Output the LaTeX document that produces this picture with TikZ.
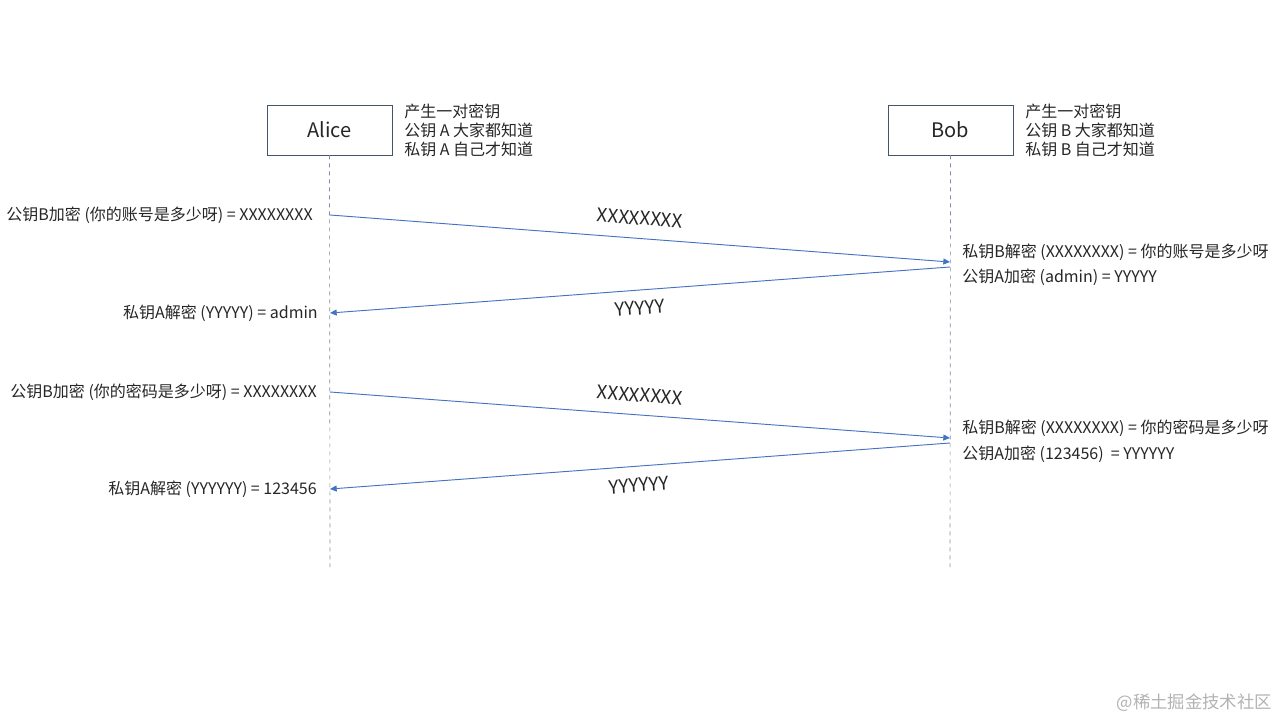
\documentclass[tikz,border=0pt]{standalone}
\usepackage{fontspec}
\setmainfont{Noto Sans CJK SC}
\usetikzlibrary{arrows.meta}
\definecolor{boxline}{HTML}{44546A}
\definecolor{arrowc}{HTML}{4472C4}
\definecolor{life}{HTML}{7F8FA6}
\definecolor{txt}{HTML}{262626}
\tikzset{
  actor/.style={draw=boxline, line width=0.6pt, minimum width=93.75pt, minimum height=37.5pt, font=\fontsize{15}{18}\selectfont, text=txt, inner sep=0pt},
  lifeline/.style={draw=life, dashed, line width=0.5pt},
  msg/.style={draw=arrowc, line width=0.7pt, -{Triangle[length=5pt,width=4.5pt]}},
  note/.style={font=\fontsize{12}{14.25}\selectfont, text=txt, align=left, inner sep=0pt},
  lbl/.style={font=\fontsize{12}{14}\selectfont, text=txt, inner sep=0pt},
  big/.style={font=\fontsize{14}{16}\selectfont, text=txt, inner sep=0pt},
}
\begin{document}
\begin{tikzpicture}[x=0.75pt,y=-0.75pt]
\useasboundingbox (0,0) rectangle (1280,720);
% actors
\node[actor] (alice) at (329.5,130) {Alice};
\node[actor] (bob) at (950.5,130) {Bob};
\coordinate (aliceEnd) at (330,567);
\coordinate (bobEnd) at (950,567);
\draw[lifeline] (alice.south) -- (aliceEnd);
\draw[lifeline] (bob.south) -- (bobEnd);
% notes
\node[note, anchor=west] (anote) at (404,130) {产生一对密钥\\公钥 A 大家都知道\\私钥 A 自己才知道};
\node[note, anchor=west] (bnote) at (1025,130) {产生一对密钥\\公钥 B 大家都知道\\私钥 B 自己才知道};
% message endpoints
\coordinate (a1) at (330,215);
\coordinate (b1) at (950,262);
\coordinate (b2) at (950,267);
\coordinate (a2) at (330,313);
\coordinate (a3) at (330,392);
\coordinate (b3) at (950,438);
\coordinate (b4) at (950,443);
\coordinate (a4) at (330,489);
\draw[msg] (a1) -- (b1);
\draw[msg] (b2) -- (a2);
\draw[msg] (a3) -- (b3);
\draw[msg] (b4) -- (a4);
% message labels
\node[big, rotate=-4.3] (m1) at (640,218) {XXXXXXXX};
\node[big, rotate=4.2] (m2) at (640,308) {YYYYY};
\node[big, rotate=-4.3] (m3) at (640,395) {XXXXXXXX};
\node[big, rotate=4.2] (m4) at (639,485) {YYYYYY};
% left side labels
\node[lbl, anchor=east] (l1) at (313,215) {公钥B加密 (你的账号是多少呀) = XXXXXXXX};
\node[lbl, anchor=east] (l2) at (318,313) {私钥A解密 (YYYYY) = admin};
\node[lbl, anchor=east] (l3) at (317,392) {公钥B加密 (你的密码是多少呀) = XXXXXXXX};
\node[lbl, anchor=east] (l4) at (317,489) {私钥A解密 (YYYYYY) = 123456};
% right side labels
\node[lbl, anchor=west] (r1) at (962,252) {私钥B解密 (XXXXXXXX) = 你的账号是多少呀};
\node[lbl, anchor=west] (r2) at (962,277) {公钥A加密 (admin) = YYYYY};
\node[lbl, anchor=west] (r3) at (962,428) {私钥B解密 (XXXXXXXX) = 你的密码是多少呀};
\node[lbl, anchor=west] (r4) at (962,454) {公钥A加密 (123456) \ = YYYYYY};
% watermark
\node[font=\fontsize{13}{15}\selectfont, text=black!30, anchor=east, inner sep=0pt] (wm) at (1272,703) {@稀土掘金技术社区};
\end{tikzpicture}
\end{document}
